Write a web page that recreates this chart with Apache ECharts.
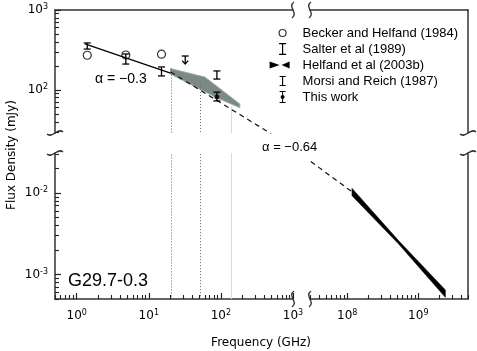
<!DOCTYPE html>
<html><head><meta charset="utf-8">
<script src="https://cdn.jsdelivr.net/npm/echarts@6/dist/echarts.min.js"></script>
<style>html,body{margin:0;padding:0;background:#fff}#c{width:477px;height:351px}</style>
</head><body><div id="c"></div>
<script>
// ---------------- data ----------------
const beckerFreq = [1.4, 4.8, 15];
const beckerFlux = [272, 274, 280];
const salterFreq = [1.4, 4.8, 15, 88];
const salterLow  = [325, 211, 150, 137];
const salterHigh = [387, 282, 194, 173];
const morsiFreq  = [32];
const morsiLimit = [266];
const morsiArrow = [211];
const thisFreq = [88];
const thisFlux = [82];
const thisLow  = [73];
const thisHigh = [94];
const fitLowFreq = [1.3, 20];
const fitLowFlux = [376, 163];
const fitHighFreq = [20, 450, 1.2e8];
const fitHighFlux = [168, 30, 0.0102];
const bandFreq = [20, 60, 183, 183, 83, 20];
const bandFlux = [185, 145, 67, 60, 82, 158];
const xrayFreq = [1.17e8, 5.3e8, 2.4e9, 2.4e9, 5.3e8, 1.17e8];
const xrayFlux = [0.0114, 0.00259, 0.000646, 0.000525, 0.00236, 0.00927];
const guideFreq = [20, 52, 140];
const guideTop  = [185, 122, 61];
// axis ranges and tick values
const xRangeLeft = [0.5, 1000];
const xRangeRight = [3e7, 5e9];
const yRangeTop = [29, 1000];
const yRangeBottom = [0.0005, 0.031];
const xMajorLeft = [1, 10, 100, 1000];
const xMajorRight = [1e8, 1e9];
const yMajorTop = [100, 1000];
const yMajorBottom = [0.001, 0.01];
const legendNames = ['Becker and Helfand (1984)', 'Salter et al (1989)', 'Helfand et al (2003b)', 'Morsi and Reich (1987)', 'This work'];

// ---------------- helpers ----------------
function minorTicks(range) {
  const out = [];
  const e0 = Math.floor(Math.log10(range[0])), e1 = Math.ceil(Math.log10(range[1]));
  for (let e = e0; e <= e1; e++) for (let m = 2; m <= 9; m++) {
    const v = m * Math.pow(10, e);
    if (v >= range[0] * 0.999 && v <= range[1] * 1.001) out.push(v);
  }
  return out;
}
function powLabel(v) {
  const e = Math.round(Math.log10(v));
  return '{b|10}{s|' + e + '}';
}
const AXC = '#333';
const labelRich = {
  b: {fontSize: 12, fontFamily: 'DejaVu Sans', color: '#000', lineHeight: 14},
  s: {fontSize: 8, fontFamily: 'DejaVu Sans', color: '#000', verticalAlign: 'top'}
};
function frameAxis(grid, range, pos) {
  return {type: 'log', gridIndex: grid, min: range[0], max: range[1], position: pos,
    axisLine: {show: true, onZero: false, lineStyle: {color: AXC, width: 1.5}},
    axisTick: {show: false}, axisLabel: {show: false}, splitLine: {show: false}};
}
function majorAxis(grid, range, pos, majors, margin) {
  return {type: 'log', gridIndex: grid, min: range[0], max: range[1], position: pos,
    axisLine: {show: true, onZero: false, lineStyle: {color: AXC, width: 1.5}},
    axisTick: {show: true, inside: true, length: 6, customValues: majors, lineStyle: {color: '#222', width: 1.2}},
    axisLabel: {show: true, customValues: majors, showMinLabel: true, showMaxLabel: true, margin: margin,
      formatter: powLabel, rich: labelRich},
    splitLine: {show: false}};
}
function minorAxis(grid, range, pos) {
  return {type: 'log', gridIndex: grid, min: range[0], max: range[1], position: pos,
    axisLine: {show: false},
    axisTick: {show: true, inside: true, length: 4, customValues: minorTicks(range), lineStyle: {color: '#222', width: 1.1}},
    axisLabel: {show: false}, splitLine: {show: false}};
}
function errorBar(params, api) {
  const x = api.value(0);
  const lo = api.coord([x, api.value(1)]);
  const hi = api.coord([x, api.value(2)]);
  const w = 3.5, st = {stroke: '#000', lineWidth: 1.3};
  return {type: 'group', children: [
    {type: 'line', shape: {x1: lo[0], y1: lo[1], x2: hi[0], y2: hi[1]}, style: st},
    {type: 'line', shape: {x1: hi[0] - w, y1: hi[1], x2: hi[0] + w, y2: hi[1]}, style: st},
    {type: 'line', shape: {x1: lo[0] - w, y1: lo[1], x2: lo[0] + w, y2: lo[1]}, style: st}
  ]};
}
function polygonRender(freqs, fluxes, style) {
  return function (params, api) {
    if (params.dataIndex !== 0) return;
    const pts = freqs.map((f, i) => api.coord([f, fluxes[i]]));
    return {type: 'polygon', shape: {points: pts}, style: style};
  };
}
function squiggleH(cx, cy) {
  return {type: 'bezierCurve', shape: {x1: cx - 8, y1: cy + 1, cpx1: cx - 3, cpy1: cy + 6, cpx2: cx + 3, cpy2: cy - 6, x2: cx + 8, y2: cy - 1},
    style: {stroke: AXC, lineWidth: 1.4, fill: null}, silent: true};
}
function squiggleV(cx, cy) {
  return {type: 'bezierCurve', shape: {x1: cx + 1, y1: cy - 8, cpx1: cx - 6, cpy1: cy - 3, cpx2: cx + 6, cpy2: cy + 3, x2: cx - 1, y2: cy + 8},
    style: {stroke: AXC, lineWidth: 1.4, fill: null}, silent: true};
}

const G = [
  {left: 55, top: 10, width: 238, height: 123},
  {left: 310, top: 10, width: 158, height: 123},
  {left: 55, top: 153, width: 238, height: 146},
  {left: 310, top: 153, width: 158, height: 146}
];

const icons = {
  becker: 'path://M0,0M28,14M9.5,7A3.5,3.5,0,1,1,16.5,7A3.5,3.5,0,1,1,9.5,7Z',
  salter: 'path://M0,0M28,14M9.5,1H16.5V2.2H9.5Z M12.4,2.2H13.6V11.8H12.4Z M9.5,11.8H16.5V13H9.5Z',
  helfand: 'path://M0,0M28,14M0,3.5L10,7L0,10.5Z M20,3.5L20,10.5L12,7Z',
  morsi: 'path://M0,0M28,14M10,2H16V3.1H10Z M12.45,3.1H13.55V10.9H12.45Z M10,10.9H16V12H10Z',
  thiswork: 'path://M0,0M28,14M10,1H16V2H10Z M12.5,2H13.5V5H12.5Z M11,7A2,2,0,1,1,15,7A2,2,0,1,1,11,7Z M12.5,9H13.5V12H12.5Z M10,12H16V13H10Z'
};

const option = {
  animation: false,
  backgroundColor: '#fff',
  grid: G,
  xAxis: [
    frameAxis(0, xRangeLeft, 'top'),
    frameAxis(1, xRangeRight, 'top'),
    majorAxis(2, xRangeLeft, 'bottom', xMajorLeft, 10),
    majorAxis(3, xRangeRight, 'bottom', xMajorRight, 10),
    minorAxis(2, xRangeLeft, 'bottom'),
    minorAxis(3, xRangeRight, 'bottom')
  ],
  yAxis: [
    majorAxis(0, yRangeTop, 'left', yMajorTop, 7),
    frameAxis(1, yRangeTop, 'right'),
    majorAxis(2, yRangeBottom, 'left', yMajorBottom, 7),
    frameAxis(3, yRangeBottom, 'right'),
    minorAxis(0, yRangeTop, 'left'),
    minorAxis(2, yRangeBottom, 'left')
  ],
  legend: {
    orient: 'vertical', left: 269, top: 25, padding: 0, itemWidth: 28, itemHeight: 14, itemGap: 0,
    selectedMode: false,
    textStyle: {fontSize: 13, fontFamily: 'Liberation Sans', color: '#000', lineHeight: 16},
    data: [
      {name: legendNames[0], icon: icons.becker, itemStyle: {color: '#fff', borderColor: '#000', borderWidth: 1.2}},
      {name: legendNames[1], icon: icons.salter, itemStyle: {color: '#000', borderWidth: 0}},
      {name: legendNames[2], icon: icons.helfand, itemStyle: {color: '#000', borderWidth: 0}},
      {name: legendNames[3], icon: icons.morsi, itemStyle: {color: '#000', borderWidth: 0}},
      {name: legendNames[4], icon: icons.thiswork, itemStyle: {color: '#000', borderWidth: 0}}
    ]
  },
  series: [
    {type: 'custom', name: 'band', xAxisIndex: 0, yAxisIndex: 0, clip: true, z: 1,
     data: bandFreq.map((f, i) => [f, bandFlux[i]]),
     renderItem: polygonRender(bandFreq, bandFlux, {fill: '#7b8a84', stroke: '#9eaba6', lineWidth: 1})},
    ...[[0, 0], [2, 2]].map(([xi, yi]) => ({
      type: 'custom', name: 'guides' + xi, xAxisIndex: xi, yAxisIndex: yi, clip: true, z: 1,
      data: guideFreq.map((f, i) => [f, guideTop[i]]),
      renderItem: function (params, api) {
        const p = api.coord([api.value(0), api.value(1)]);
        const bottom = params.coordSys.y + params.coordSys.height;
        const solid = params.dataIndex === 2;
        return {type: 'line', shape: {x1: Math.round(p[0]) + 0.5, y1: p[1], x2: Math.round(p[0]) + 0.5, y2: bottom},
          style: solid ? {stroke: '#dadada', lineWidth: 1} : {stroke: '#666', lineWidth: 1, lineDash: [1, 2]}};
      }})),
    {type: 'line', name: 'fitLow', xAxisIndex: 0, yAxisIndex: 0, symbol: 'none', z: 3,
     data: fitLowFreq.map((f, i) => [f, fitLowFlux[i]]), lineStyle: {color: '#000', width: 1.3}},
    {type: 'line', name: 'fitHighA', xAxisIndex: 0, yAxisIndex: 0, symbol: 'none', z: 3, clip: true,
     data: fitHighFreq.map((f, i) => [f, fitHighFlux[i]]), lineStyle: {color: '#111', width: 1.2, type: [5, 4]}},
    {type: 'line', name: 'fitHighB', xAxisIndex: 3, yAxisIndex: 3, symbol: 'none', z: 3, clip: true,
     data: fitHighFreq.map((f, i) => [f, fitHighFlux[i]]), lineStyle: {color: '#111', width: 1.2, type: [5, 4]}},
    {type: 'scatter', name: legendNames[0], xAxisIndex: 0, yAxisIndex: 0, symbol: 'circle', symbolSize: 8, z: 4,
     itemStyle: {color: 'rgba(0,0,0,0)', borderColor: '#000', borderWidth: 1.2},
     data: beckerFreq.map((f, i) => [f, beckerFlux[i]])},
    {type: 'custom', name: legendNames[1], xAxisIndex: 0, yAxisIndex: 0, z: 4,
     data: salterFreq.map((f, i) => [f, salterLow[i], salterHigh[i]]), encode: {x: 0, y: [1, 2]},
     renderItem: errorBar},
    {type: 'custom', name: legendNames[2], xAxisIndex: 3, yAxisIndex: 3, clip: true, z: 4,
     data: xrayFreq.map((f, i) => [f, xrayFlux[i]]),
     renderItem: polygonRender(xrayFreq, xrayFlux, {fill: '#000', stroke: '#000', lineWidth: 0.6})},
    {type: 'custom', name: legendNames[3], xAxisIndex: 0, yAxisIndex: 0, z: 4,
     data: morsiFreq.map((f, i) => [f, morsiLimit[i], morsiArrow[i]]), encode: {x: 0, y: [1, 2]},
     renderItem: function (params, api) {
       const x = api.value(0);
       const t = api.coord([x, api.value(1)]), b = api.coord([x, api.value(2)]);
       const st = {stroke: '#000', lineWidth: 1.3, fill: null};
       return {type: 'group', children: [
         {type: 'line', shape: {x1: t[0] - 3.5, y1: t[1], x2: t[0] + 3.5, y2: t[1]}, style: st},
         {type: 'line', shape: {x1: t[0], y1: t[1], x2: b[0], y2: b[1]}, style: st},
         {type: 'polyline', shape: {points: [[b[0] - 3, b[1] - 3.5], [b[0], b[1]], [b[0] + 3, b[1] - 3.5]]}, style: st}
       ]};
     }},
    {type: 'custom', name: legendNames[4], xAxisIndex: 0, yAxisIndex: 0, z: 5,
     data: thisFreq.map((f, i) => [f, thisLow[i], thisHigh[i]]), encode: {x: 0, y: [1, 2]},
     renderItem: errorBar},
    {type: 'scatter', name: legendNames[4], xAxisIndex: 0, yAxisIndex: 0, symbol: 'circle', symbolSize: 5, z: 5,
     itemStyle: {color: '#000'}, data: thisFreq.map((f, i) => [f, thisFlux[i]])}
  ],
  graphic: [
    squiggleH(G[0].left, G[0].top + G[0].height), squiggleH(G[2].left, G[2].top),
    squiggleH(G[1].left + G[1].width, G[1].top + G[1].height), squiggleH(G[3].left + G[3].width, G[3].top),
    squiggleV(G[0].left + G[0].width, G[0].top), squiggleV(G[1].left, G[1].top),
    squiggleV(G[2].left + G[2].width, G[2].top + G[2].height), squiggleV(G[3].left, G[3].top + G[3].height),
    {type: 'text', left: 95, top: 72, style: {text: 'α = −0.3', fontSize: 14, fontFamily: 'Liberation Sans', fill: '#000'}},
    {type: 'text', left: 262, top: 141, style: {text: 'α = −0.64', fontSize: 13, fontFamily: 'Liberation Sans', fill: '#000'}},
    {type: 'text', left: 68, top: 272, style: {text: 'G29.7-0.3', fontSize: 18, fontFamily: 'Liberation Sans', fill: '#000'}},
    {type: 'text', x: 12, y: 155, rotation: Math.PI / 2,
     style: {text: 'Flux Density (mJy)', fontSize: 12, fontFamily: 'DejaVu Sans', fill: '#000', align: 'center', verticalAlign: 'middle'}},
    {type: 'text', x: 261, y: 343,
     style: {text: 'Frequency (GHz)', fontSize: 12, fontFamily: 'DejaVu Sans', fill: '#000', align: 'center', verticalAlign: 'middle'}}
  ]
};
const chart = echarts.init(document.getElementById('c'), null, {renderer: 'canvas'});
chart.setOption(option);
</script></body></html>
